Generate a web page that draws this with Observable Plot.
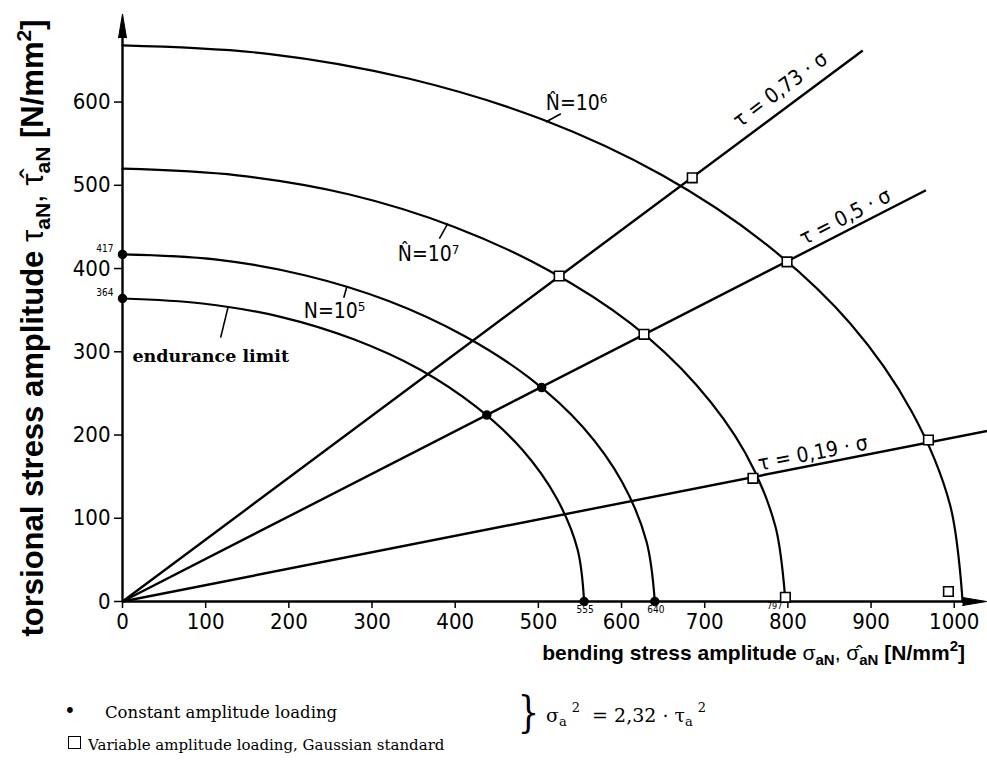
<!DOCTYPE html>
<html><head><meta charset="utf-8">
<script src="https://cdn.jsdelivr.net/npm/d3@7"></script>
<script src="https://cdn.jsdelivr.net/npm/@observablehq/plot@0.6"></script>
<style>
body{margin:0;background:#fff;}
#fig{position:relative;width:987px;height:783px;overflow:hidden;background:#fff;}
#chart svg{display:block;}
.lg{position:absolute;font-family:"DejaVu Serif","Liberation Serif",serif;font-size:15px;color:#000;white-space:nowrap;line-height:1;}
.sb{font-size:13px;position:relative;top:4px;}
.sp{font-size:13px;position:relative;top:-10px;margin-left:5px;}
</style></head><body>
<div id="fig">
<div id="chart"></div>
<div class="lg" style="left:64px;top:701px;font-size:20px;">•</div>
<div class="lg" style="left:105px;top:705px;font-size:16.5px;">Constant amplitude loading</div>
<div class="lg" style="left:68px;top:736px;width:11px;height:11px;border:1.6px solid #000;"></div>
<div class="lg" style="left:88px;top:738px;font-size:15px;">Variable amplitude loading, Gaussian standard</div>
<div class="lg" style="left:515px;top:692px;font-size:42px;font-weight:300;transform:scaleX(0.8);">}</div>
<div class="lg" style="left:546px;top:706px;font-size:19px;">σ<span class="sb">a</span><span class="sp">2</span>&nbsp;&nbsp;= 2,32 · τ<span class="sb">a</span><span class="sp">2</span></div>
</div>
<script>
// ---------- data ----------
const xTicks = [0, 100, 200, 300, 400, 500, 600, 700, 800, 900, 1000];
const yTicks = [0, 100, 200, 300, 400, 500, 600];

// limit curves (bending sigma, torsion tau)
const curveNames = ["endurance limit", "N=10^5", "N^=10^7", "N^=10^6"];
const curveSigma = [
  [0, 96, 190, 278, 357, 425, 481, 522, 547, 555],
  [0, 111, 219, 320, 411, 490, 554, 601, 630, 640],
  [0, 138, 273, 399, 512, 611, 690, 749, 785, 797],
  [0, 175, 345, 505, 649, 774, 875, 949, 995, 1010]
];
const curveTau = [
  [364, 358, 342, 315, 279, 234, 182, 124, 63, 0],
  [417, 411, 392, 361, 319, 268, 209, 143, 72, 0],
  [520, 512, 489, 450, 398, 334, 260, 178, 90, 0],
  [668, 658, 628, 579, 512, 429, 334, 228, 116, 0]
];

// load-ratio rays tau = k * sigma
const rayLabels = ["τ = 0,73 · σ", "τ = 0,5 · σ", "τ = 0,19 · σ"];
const rayEndSigma = [890, 966, 1040];
const rayEndTau = [662, 494, 205];

// constant amplitude loading (filled dots)
const constSigma = [0, 0, 555, 640, 438, 504];
const constTau = [417, 364, 0, 0, 224, 257];

// variable amplitude loading, Gaussian standard (open squares)
const varSigma = [525, 685, 627, 799, 758, 969, 797, 993];
const varTau = [391, 509, 321, 408, 148, 194, 5, 12];

// value labels at axis intercepts
const valueText = ["417", "364", "555", "640", "797"];
const valueSigma = [0, 0, 555, 640, 797];
const valueTau = [417, 364, 0, 0, 0];

// curve labels (anchor in data units) and leader lines
const curveLabelText = ["N̂=10⁶", "N̂=10⁷", "N=10⁵"];
const curveLabelSigma = [509, 331, 218];
const curveLabelTau = [590, 409, 340];
const leaderFrom = [[527, 586], [381, 436], [266, 365], [118, 317]];
const leaderTo = [[509, 576], [391, 454], [270, 379], [127, 354]];
const enduranceLabel = "endurance limit";
const enduranceSigma = 12, enduranceTau = 288;

// ray label anchors
const rayLabelSigma = [791, 869, 830];
const rayLabelTau = [615, 462, 178];
const rayLabelAngle = [-36.7, -27.1, -11.1];

// ---------- tables ----------
const curvePts = curveNames.flatMap((name, i) =>
  curveSigma[i].map((s, j) => ({curve: name, s, t: curveTau[i][j]})));
const rays = rayLabels.map((l, i) => ({label: l, s: rayEndSigma[i], t: rayEndTau[i],
  ls: rayLabelSigma[i], lt: rayLabelTau[i], a: rayLabelAngle[i]}));
const constPts = constSigma.map((s, i) => ({s, t: constTau[i]}));
const varPts = varSigma.map((s, i) => ({s, t: varTau[i]}));
const leaders = leaderFrom.map((f, i) => ({x1: f[0], y1: f[1], x2: leaderTo[i][0], y2: leaderTo[i][1]}));
const curveLabels = curveLabelText.map((t, i) => ({text: t, s: curveLabelSigma[i], t2: curveLabelTau[i]}));
const valueLabels = valueText.map((t, i) => ({text: t, s: valueSigma[i], t2: valueTau[i]}));

const NARROW = '"Liberation Sans Narrow","DejaVu Sans Condensed","Liberation Sans",Arial,sans-serif';

const plot = Plot.plot({
  width: 987, height: 680,
  marginLeft: 122, marginRight: 0, marginTop: 10, marginBottom: 79,
  x: {domain: [0, 1040]},
  y: {domain: [0, 710]},
  style: {fontFamily: NARROW, fontSize: "22px", background: "white", color: "black", overflow: "visible"},
  marks: [
    Plot.axisX({ticks: xTicks, tickFormat: d => String(d), tickSize: 7, tickPadding: 5, label: null, strokeWidth: 1.5, fontSize: 22}),
    Plot.axisY({ticks: yTicks, tickFormat: d => String(d), tickSize: 8, tickPadding: 4, label: null, strokeWidth: 1.5, fontSize: 22}),
    Plot.ruleY([0], {x1: 0, x2: 1012, strokeWidth: 2.4}),
    Plot.ruleX([0], {y1: 0, y2: 677, strokeWidth: 2.4}),
    Plot.vector([0], {x: 0, y: 677, length: 24, r: 4, shape: "spike", anchor: "start", fill: "black", stroke: "black", strokeWidth: 1}),
    Plot.vector([0], {x: 1010, y: 0, length: 24, r: 4, rotate: 90, shape: "spike", anchor: "start", fill: "black", stroke: "black", strokeWidth: 1}),
    Plot.line(curvePts, {x: "s", y: "t", z: "curve", curve: "catmull-rom", stroke: "black", strokeWidth: 2.2}),
    Plot.link(rays, {x1: 0, y1: 0, x2: "s", y2: "t", stroke: "black", strokeWidth: 2.4}),
    Plot.link(leaders, {x1: "x1", y1: "y1", x2: "x2", y2: "y2", stroke: "black", strokeWidth: 1.6}),
    Plot.dot(constPts, {x: "s", y: "t", r: 4, fill: "black", stroke: "black"}),
    Plot.dot(varPts, {x: "s", y: "t", symbol: "square", r: 5.4, fill: "white", stroke: "black", strokeWidth: 1.6}),
    Plot.text(rays, {x: "ls", y: "lt", text: "label", rotate: "a", fontSize: 21, fontFamily: NARROW, fill: "black"}),
    Plot.text(curveLabels, {x: "s", y: "t2", text: "text", textAnchor: "start", lineAnchor: "bottom", fontSize: 21, fontFamily: NARROW, fill: "black"}),
    Plot.text([enduranceLabel], {x: enduranceSigma, y: enduranceTau, text: d => d, textAnchor: "start", lineAnchor: "bottom", fontSize: 17.5, fontWeight: "bold", fontFamily: '"DejaVu Serif",serif', fill: "black"}),
    Plot.text(valueLabels.slice(0, 2), {x: "s", y: "t2", text: "text", textAnchor: "end", dx: -9, dy: -6, fontSize: 10, fontFamily: NARROW, fill: "black"}),
    Plot.text(valueLabels.slice(2, 4), {x: "s", y: "t2", text: "text", lineAnchor: "top", dx: 1, dy: 4, fontSize: 10, fontFamily: NARROW, fill: "black"}),
    Plot.text(valueLabels.slice(4), {x: "s", y: "t2", text: "text", textAnchor: "end", lineAnchor: "bottom", dx: -3, dy: 7, fontSize: 9, fontFamily: NARROW, fill: "black"})
  ]
});
document.getElementById("chart").appendChild(plot);

// axis titles with sub/superscripts
const svg = d3.select(plot);
const SANS = '"Liberation Sans",Arial,Helvetica,sans-serif';
const yt = svg.append("text").attr("transform", "translate(43,328) rotate(-90)")
  .attr("text-anchor", "middle").attr("font-family", SANS).attr("font-weight", "bold")
  .attr("font-size", 31).attr("fill", "black");
yt.append("tspan").text("torsional stress amplitude ");
yt.append("tspan").attr("font-weight", "normal").text("τ");
yt.append("tspan").attr("font-size", 21).attr("dy", 7).text("aN");
yt.append("tspan").attr("dy", -7).attr("font-weight", "normal").text(", τ̂");
yt.append("tspan").attr("font-size", 21).attr("dy", 7).text("aN");
yt.append("tspan").attr("dy", -7).text(" [N/mm");
yt.append("tspan").attr("font-size", 21).attr("dy", -12).text("2");
yt.append("tspan").attr("dy", 12).text("]");

const xt = svg.append("text").attr("transform", "translate(965,660)")
  .attr("text-anchor", "end").attr("font-family", SANS).attr("font-weight", "bold")
  .attr("font-size", 21).attr("fill", "black");
xt.append("tspan").text("bending stress amplitude ");
xt.append("tspan").attr("font-weight", "normal").text("σ");
xt.append("tspan").attr("font-size", 15).attr("dy", 5).text("aN");
xt.append("tspan").attr("dy", -5).attr("font-weight", "normal").text(", σ̂");
xt.append("tspan").attr("font-size", 15).attr("dy", 5).text("aN");
xt.append("tspan").attr("dy", -5).text(" [N/mm");
xt.append("tspan").attr("font-size", 15).attr("dy", -9).text("2");
xt.append("tspan").attr("dy", 9).text("]");
</script>
</body></html>
